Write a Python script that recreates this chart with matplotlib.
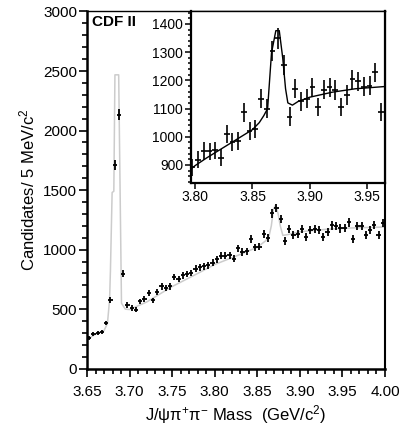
import numpy as np
import matplotlib
matplotlib.use("Agg")
import matplotlib.pyplot as plt
from matplotlib.ticker import MultipleLocator, FormatStrFormatter

plt.rcParams['font.family'] = ['Liberation Sans', 'DejaVu Sans']
plt.rcParams['mathtext.fontset'] = 'custom'
plt.rcParams['mathtext.rm'] = 'Liberation Sans'
plt.rcParams['mathtext.it'] = 'Liberation Sans:italic'

# 5 MeV bins, J/psi pi pi mass (GeV/c^2)
mass = [3.6525, 3.6575, 3.6625, 3.6675, 3.6725, 3.6775, 3.6825, 3.6875, 3.6925, 3.6975,
        3.7025, 3.7075, 3.7125, 3.7175, 3.7225, 3.7275, 3.7325, 3.7375, 3.7425, 3.7475,
        3.7525, 3.7575, 3.7625, 3.7675, 3.7725, 3.7775, 3.7825, 3.7875, 3.7925, 3.7975,
        3.8025, 3.8075, 3.8125, 3.8175, 3.8225, 3.8275, 3.8325, 3.8375, 3.8425, 3.8475,
        3.8525, 3.8575, 3.8625, 3.8675, 3.8725, 3.8775, 3.8825, 3.8875, 3.8925, 3.8975,
        3.9025, 3.9075, 3.9125, 3.9175, 3.9225, 3.9275, 3.9325, 3.9375, 3.9425, 3.9475,
        3.9525, 3.9575, 3.9625, 3.9675, 3.9725, 3.9775, 3.9825, 3.9875, 3.9925, 3.9975]
counts = [260, 290, 300, 305, 383, 579, 1712, 2133, 798, 537,
          509, 495, 565, 585, 636, 573, 641, 691, 678, 691,
          771, 754, 785, 795, 804, 841, 852, 860, 870, 891,
          918, 950, 948, 952, 925, 1010, 981, 986, 1086, 1019,
          1026, 1135, 1100, 1305, 1349, 1255, 1071, 1170, 1125, 1135,
          1175, 1105, 1167, 1175, 1166, 1105, 1148, 1203, 1196, 1178,
          1181, 1228, 1088, 1197, 1197, 1125, 1167, 1209, 1125, 1223]

# fit curve (grey)
fit_mass = [3.650, 3.660, 3.670, 3.674, 3.6765, 3.6775, 3.6795, 3.6815, 3.6828, 3.6872,
            3.6905, 3.695, 3.700, 3.720, 3.750, 3.780, 3.800, 3.830, 3.850, 3.860,
            3.864, 3.8665, 3.869, 3.8715, 3.8745, 3.877, 3.880, 3.885, 3.900, 3.930,
            3.960, 4.000]
fit_counts = [245, 290, 320, 380, 578, 818, 1480, 1490, 2468, 2468,
              550, 500, 497, 560, 690, 800, 875, 960, 1020, 1075,
              1120, 1200, 1340, 1375, 1300, 1200, 1120, 1125, 1150, 1170,
              1182, 1190]

# fit curve in the inset (black)
inset_fit_mass = [3.796, 3.800, 3.810, 3.820, 3.830, 3.840, 3.850, 3.856, 3.860, 3.8633,
                  3.8667, 3.8705, 3.8735, 3.8765, 3.879, 3.881, 3.885, 3.890, 3.900, 3.920,
                  3.940, 3.966]
inset_fit_counts = [885, 898, 925, 950, 975, 1000, 1025, 1050, 1075, 1100,
                    1297, 1376, 1376, 1280, 1170, 1120, 1112, 1125, 1140, 1158,
                    1170, 1178]

mass = np.array(mass)
counts = np.array(counts)
errs = np.sqrt(counts)

fig = plt.figure(figsize=(4.03, 4.24), dpi=100)

ax = fig.add_axes([0.2159, 0.1304, 0.7394, 0.8425])
ax.plot(fit_mass, fit_counts, color='#cccccc', lw=1.1, zorder=1)
ax.errorbar(mass, counts, xerr=0.0025, yerr=errs, fmt='none',
            ecolor='black', elinewidth=1.3, capsize=0, zorder=2)
ax.set_xlim(3.65, 4.00)
ax.set_ylim(0, 3000)
ax.xaxis.set_major_locator(MultipleLocator(0.05))
ax.xaxis.set_minor_locator(MultipleLocator(0.01))
ax.xaxis.set_major_formatter(FormatStrFormatter('%.2f'))
ax.yaxis.set_major_locator(MultipleLocator(500))
ax.yaxis.set_minor_locator(MultipleLocator(100))
ax.tick_params(which='both', direction='out', top=False, right=False, width=1.2)
ax.tick_params(which='major', length=6, labelsize=11)
ax.tick_params(axis='x', which='major', pad=6)
ax.tick_params(axis='y', which='major', pad=1)
ax.tick_params(which='minor', length=3.5)
for s in ['left', 'bottom']:
    ax.spines[s].set_linewidth(1.8)
ax.spines['right'].set_linewidth(1.5)
ax.spines['top'].set_linewidth(1.0)

ax.set_ylabel('Candidates/ 5 MeV/c$^2$', fontsize=12)
ax.yaxis.set_label_coords(-0.168, 0.5)
ax.set_xlabel(r'J/$\mathrm{\psi\pi^{+}\pi^{-}}$ Mass  (GeV/c$^{2}$)', fontsize=12)
ax.xaxis.set_label_coords(0.5, -0.095)
ax.text(0.017, 0.99, 'CDF II', transform=ax.transAxes, ha='left', va='top',
        fontsize=11, fontweight='bold')

# inset, same data zoomed on the X(3872)
axi = fig.add_axes([0.4732, 0.5691, 0.4821, 0.4038])
sel = (mass > 3.795) & (mass < 3.966)
axi.plot(inset_fit_mass, inset_fit_counts, color='black', lw=1.0, zorder=1)
axi.errorbar(mass[sel], counts[sel], xerr=0.0025, yerr=errs[sel], fmt='none',
             ecolor='black', elinewidth=1.2, capsize=0, zorder=2)
axi.set_xlim(3.796, 3.966)
axi.set_ylim(837, 1444)
axi.xaxis.set_major_locator(MultipleLocator(0.05))
axi.xaxis.set_major_formatter(FormatStrFormatter('%.2f'))
axi.yaxis.set_major_locator(MultipleLocator(100))
axi.yaxis.set_minor_locator(MultipleLocator(20))
axi.tick_params(which='both', direction='out', top=False, right=False, width=1.1)
axi.tick_params(which='major', length=4, labelsize=10)
axi.tick_params(axis='x', which='major', pad=1.5)
axi.tick_params(axis='y', which='major', pad=1.5)
axi.tick_params(which='minor', length=2)
for s in ['left', 'bottom', 'right']:
    axi.spines[s].set_linewidth(1.6)
axi.spines['top'].set_linewidth(1.0)

fig.savefig('out.png', dpi=100)
